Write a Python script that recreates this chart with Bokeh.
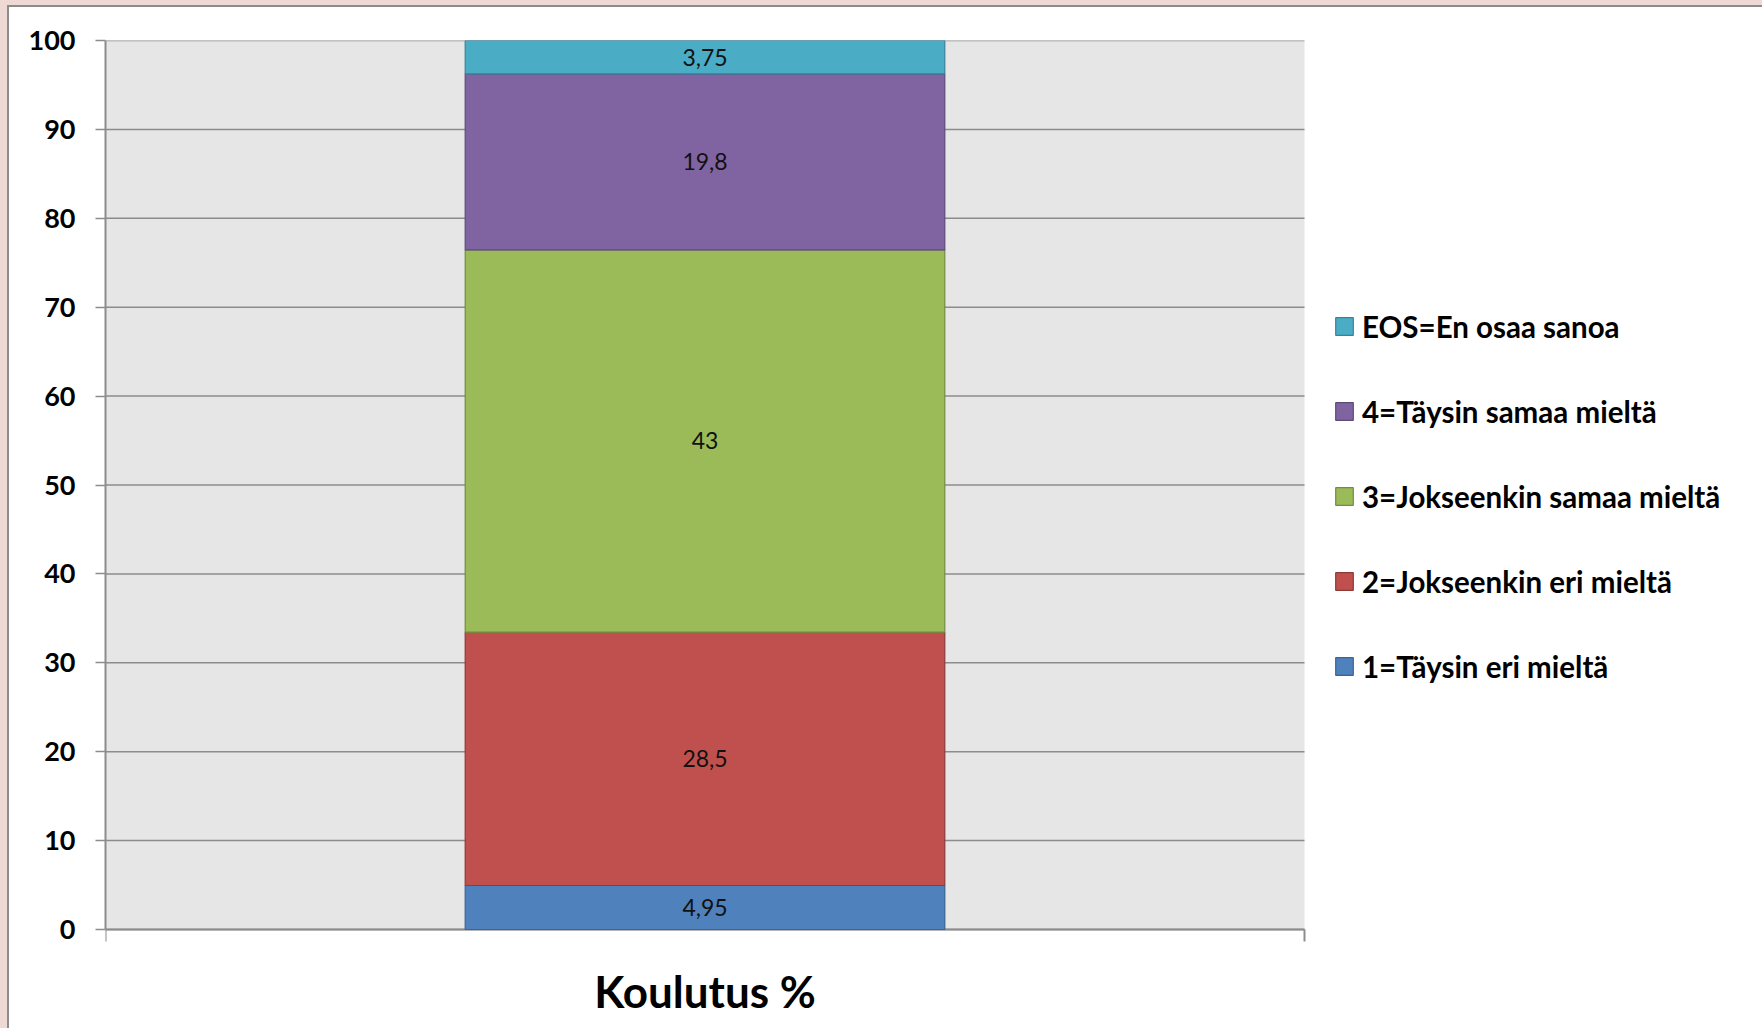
from bokeh.plotting import figure
from bokeh.models import Range1d, FixedTicker, Legend, LegendItem, ColumnDataSource
from bokeh.embed import file_html
from bokeh.resources import INLINE
from bokeh.core.properties import value
import numpy as np

# ---- data ----
categories = ["Koulutus %"]
series_names = [
    "1=Täysin eri mieltä",
    "2=Jokseenkin eri mieltä",
    "3=Jokseenkin samaa mieltä",
    "4=Täysin samaa mieltä",
    "EOS=En osaa sanoa",
]
series_values = [4.95, 28.5, 43, 19.8, 3.75]
value_labels = ["4,95", "28,5", "43", "19,8", "3,75"]
y_ticks = [0, 10, 20, 30, 40, 50, 60, 70, 80, 90, 100]

fill_colors = ["#4F81BD", "#C0504D", "#9BBB59", "#8064A2", "#4BACC6"]
line_colors = ["#3B6496", "#8E3A38", "#738C42", "#5E4A7A", "#37849A"]

FONT = "Lato"
AXIS_GRAY = "#8C8C8C"

# ---- layout (pixels) ----
W, H = 1753, 1021          # figure size (page offset by body padding)
LEFT, TOP = 96, 33         # frame origin inside figure
PLOT_W, PLOT_H = 1199, 889 # size of the grey plotting area
frame_w, frame_h = W - LEFT, H - TOP
ncat = len(categories)
y_max = max(y_ticks)
px_per_unit = PLOT_H / y_max

x_end = ncat * frame_w / PLOT_W
y_start = y_max - y_max * frame_h / PLOT_H

p = figure(
    width=W, height=H,
    x_range=Range1d(0, x_end), y_range=Range1d(y_start, y_max),
    output_backend="svg", toolbar_location=None, x_axis_location=None,
    min_border_left=LEFT, min_border_right=0, min_border_top=TOP, min_border_bottom=0,
)
p.background_fill_color = "white"
p.border_fill_color = "white"
p.outline_line_color = None
p.xgrid.visible = False
p.ygrid.visible = False

# grey plotting area and gridlines
p.quad(left=[0], right=[ncat], bottom=[0], top=[y_max],
       fill_color="#E6E6E6", line_color=None)
p.segment(x0=[0] * len(y_ticks), x1=[ncat] * len(y_ticks), y0=y_ticks, y1=y_ticks,
          line_color=AXIS_GRAY, line_width=1.5)

# y axis
p.yaxis.ticker = FixedTicker(ticks=y_ticks)
p.yaxis.bounds = (0, y_max)
p.yaxis.axis_line_color = AXIS_GRAY
p.yaxis.axis_line_width = 2
p.yaxis.major_tick_line_color = AXIS_GRAY
p.yaxis.major_tick_line_width = 1.5
p.yaxis.major_tick_in = 0
p.yaxis.major_tick_out = 10
p.yaxis.minor_tick_line_color = None
p.yaxis.major_label_text_font = FONT
p.yaxis.major_label_text_font_style = "bold"
p.yaxis.major_label_text_font_size = "27px"
p.yaxis.major_label_text_color = "black"
p.yaxis.major_label_standoff = 20

# x axis line and ticks at category edges
edges = list(range(ncat + 1))
tick_len = 12 / px_per_unit
p.segment(x0=[0], x1=[ncat], y0=[0], y1=[0], line_color=AXIS_GRAY, line_width=2)
p.segment(x0=edges, x1=edges, y0=[0] * len(edges), y1=[-tick_len] * len(edges),
          line_color=AXIS_GRAY, line_width=2)

# category label
centers = [i + 0.5 for i in range(ncat)]
p.text(x=centers, y=[-61 / px_per_unit] * ncat, text=categories,
       text_align="center", text_baseline="middle",
       text_font=value(FONT), text_font_style="bold", text_font_size="44px",
       text_color="black")

# stacked bar
vals = np.array(series_values, dtype=float)
tops = np.cumsum(vals)
bottoms = tops - vals

renderers = []
for i, name in enumerate(series_names):
    src = ColumnDataSource(dict(x=centers, bottom=[bottoms[i]], top=[tops[i]]))
    r = p.vbar(x="x", width=0.4, bottom="bottom", top="top", source=src,
               fill_color=fill_colors[i], line_color=line_colors[i], line_width=1.2)
    renderers.append(r)

lab_src = ColumnDataSource(dict(
    x=[centers[0]] * len(series_values),
    y=list((bottoms + tops) / 2),
    text=value_labels,
))
p.text(x="x", y="y", text="text", source=lab_src, text_align="center",
       text_baseline="middle", text_font=value(FONT), text_font_size="23px",
       text_color="#111111")

items = [LegendItem(label=series_names[i], renderers=[renderers[i]])
         for i in reversed(range(len(series_names)))]
legend = Legend(items=items, location=(1228, 344))
legend.padding = 0
legend.margin = 0
legend.border_line_color = None
legend.background_fill_alpha = 0
legend.glyph_width = 22
legend.glyph_height = 22
legend.label_height = 36
legend.spacing = 49
legend.label_standoff = 7
legend.label_text_font = FONT
legend.label_text_font_style = "bold"
legend.label_text_font_size = "29.5px"
legend.label_text_color = "black"
p.add_layout(legend, "center")

html = file_html(p, INLINE)
css = ("<style>html{background:#EFD9D4 !important;}"
       "body{margin:0 !important; padding:7px 0 0 9px !important;"
       " background:"
       " linear-gradient(#8C8C8C,#8C8C8C) 7px 5px / 100% 2px no-repeat,"
       " linear-gradient(#8C8C8C,#8C8C8C) 7px 5px / 2px 100% no-repeat,"
       " linear-gradient(#FFFFFF,#FFFFFF) 9px 7px / 100% 100% no-repeat,"
       " #EFD9D4 !important;}</style>")
html = html.replace("</head>", css + "</head>", 1)
open("out.html", "w").write(html)
